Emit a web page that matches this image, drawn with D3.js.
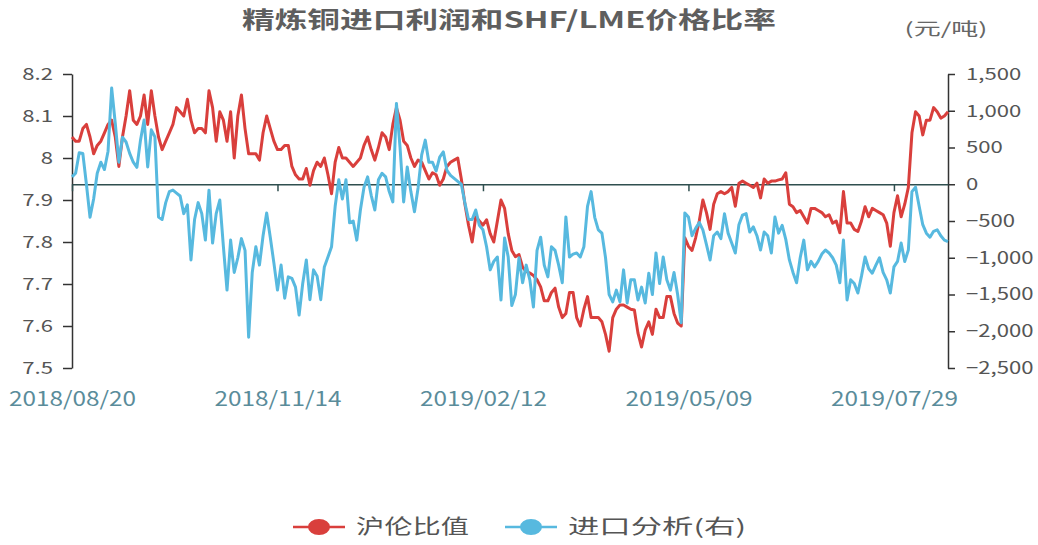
<!DOCTYPE html>
<html>
<head>
<meta charset="utf-8">
<script src="https://cdn.jsdelivr.net/npm/d3@7"></script>
<style>
body{margin:0;background:#fff}
text{font-family:"Noto Sans CJK SC","Noto Sans",sans-serif}
</style>
</head>
<body>
<div id="chart"></div>
<script>
// trading days on the category axis
var dates = [
"2018/08/20","2018/08/21","2018/08/22","2018/08/23","2018/08/24","2018/08/27","2018/08/28","2018/08/29","2018/08/30","2018/08/31",
"2018/09/03","2018/09/04","2018/09/05","2018/09/06","2018/09/07","2018/09/10","2018/09/11","2018/09/12","2018/09/13","2018/09/14",
"2018/09/17","2018/09/18","2018/09/19","2018/09/20","2018/09/21","2018/09/24","2018/09/25","2018/09/26","2018/09/27","2018/09/28",
"2018/10/08","2018/10/09","2018/10/10","2018/10/11","2018/10/12","2018/10/15","2018/10/16","2018/10/17","2018/10/18","2018/10/19",
"2018/10/22","2018/10/23","2018/10/24","2018/10/25","2018/10/26","2018/10/29","2018/10/30","2018/10/31","2018/11/01","2018/11/02",
"2018/11/05","2018/11/06","2018/11/07","2018/11/08","2018/11/09","2018/11/12","2018/11/13","2018/11/14","2018/11/15","2018/11/16",
"2018/11/19","2018/11/20","2018/11/21","2018/11/22","2018/11/23","2018/11/26","2018/11/27","2018/11/28","2018/11/29","2018/11/30",
"2018/12/03","2018/12/04","2018/12/05","2018/12/06","2018/12/07","2018/12/10","2018/12/11","2018/12/12","2018/12/13","2018/12/14",
"2018/12/17","2018/12/18","2018/12/19","2018/12/20","2018/12/21","2018/12/24","2018/12/25","2018/12/26","2018/12/27","2018/12/28",
"2019/01/02","2019/01/03","2019/01/04","2019/01/07","2019/01/08","2019/01/09","2019/01/10","2019/01/11","2019/01/14","2019/01/15",
"2019/01/16","2019/01/17","2019/01/18","2019/01/21","2019/01/22","2019/01/23","2019/01/24","2019/01/25","2019/01/28","2019/01/29",
"2019/01/30","2019/01/31","2019/02/01","2019/02/11","2019/02/12","2019/02/13","2019/02/14","2019/02/15","2019/02/18","2019/02/19",
"2019/02/20","2019/02/21","2019/02/22","2019/02/25","2019/02/26","2019/02/27","2019/02/28","2019/03/01","2019/03/04","2019/03/05",
"2019/03/06","2019/03/07","2019/03/08","2019/03/11","2019/03/12","2019/03/13","2019/03/14","2019/03/15","2019/03/18","2019/03/19",
"2019/03/20","2019/03/21","2019/03/22","2019/03/25","2019/03/26","2019/03/27","2019/03/28","2019/03/29","2019/04/01","2019/04/02",
"2019/04/03","2019/04/04","2019/04/08","2019/04/09","2019/04/10","2019/04/11","2019/04/12","2019/04/15","2019/04/16","2019/04/17",
"2019/04/18","2019/04/22","2019/04/23","2019/04/24","2019/04/25","2019/04/26","2019/04/29","2019/04/30","2019/05/06","2019/05/07",
"2019/05/08","2019/05/09","2019/05/10","2019/05/13","2019/05/14","2019/05/15","2019/05/16","2019/05/17","2019/05/20","2019/05/21",
"2019/05/22","2019/05/23","2019/05/24","2019/05/27","2019/05/28","2019/05/29","2019/05/30","2019/05/31","2019/06/03","2019/06/04",
"2019/06/05","2019/06/06","2019/06/07","2019/06/10","2019/06/11","2019/06/12","2019/06/13","2019/06/14","2019/06/17","2019/06/18",
"2019/06/19","2019/06/20","2019/06/21","2019/06/24","2019/06/25","2019/06/26","2019/06/27","2019/06/28","2019/07/01","2019/07/02",
"2019/07/03","2019/07/04","2019/07/05","2019/07/08","2019/07/09","2019/07/10","2019/07/11","2019/07/12","2019/07/15","2019/07/16",
"2019/07/17","2019/07/18","2019/07/19","2019/07/22","2019/07/23","2019/07/24","2019/07/25","2019/07/26","2019/07/29","2019/07/30",
"2019/07/31","2019/08/01","2019/08/02","2019/08/05","2019/08/06","2019/08/07","2019/08/08","2019/08/09","2019/08/12","2019/08/13",
"2019/08/14","2019/08/15","2019/08/16","2019/08/19"]

// 沪伦比值 (left axis)
var ratio = [
8.05,8.04,8.04,8.07,8.08,8.05,8.01,8.03,8.04,8.06,
8.08,8.09,8.05,7.98,8.05,8.10,8.16,8.09,8.08,8.10,
8.15,8.08,8.16,8.10,8.05,8.02,8.04,8.06,8.08,8.12,
8.11,8.10,8.14,8.09,8.06,8.07,8.07,8.06,8.16,8.12,
8.04,8.11,8.09,8.04,8.11,8.00,8.10,8.15,8.07,8.01,
8.01,8.01,7.995,8.06,8.10,8.07,8.04,8.02,8.02,8.03,
8.03,7.98,7.96,7.95,7.95,7.975,7.935,7.97,7.99,7.98,
8.00,7.96,7.915,7.99,8.025,8.00,8.00,7.99,7.98,7.99,
8.00,8.03,8.05,8.02,7.995,8.025,8.06,8.05,8.02,8.08,
8.12,8.09,8.04,8.03,8.00,7.98,7.995,7.99,7.97,7.95,
7.965,7.96,7.935,7.95,7.98,7.99,7.995,8.00,7.95,7.89,
7.84,7.80,7.86,7.85,7.84,7.853,7.82,7.80,7.85,7.90,
7.88,7.82,7.78,7.765,7.77,7.74,7.73,7.726,7.72,7.71,
7.693,7.66,7.66,7.68,7.69,7.645,7.62,7.63,7.68,7.68,
7.62,7.60,7.64,7.67,7.62,7.62,7.62,7.61,7.58,7.54,
7.62,7.64,7.65,7.65,7.645,7.64,7.638,7.583,7.55,7.59,
7.61,7.58,7.64,7.62,7.62,7.67,7.67,7.63,7.607,7.60,
7.81,7.79,7.78,7.81,7.85,7.90,7.87,7.83,7.89,7.915,
7.92,7.915,7.92,7.93,7.885,7.94,7.945,7.94,7.935,7.93,
7.94,7.905,7.95,7.94,7.945,7.945,7.948,7.95,7.965,7.89,
7.884,7.87,7.875,7.86,7.845,7.88,7.88,7.875,7.87,7.86,
7.865,7.845,7.85,7.822,7.92,7.845,7.845,7.83,7.825,7.85,
7.884,7.86,7.88,7.875,7.87,7.865,7.845,7.79,7.87,7.91,
7.86,7.89,7.93,8.06,8.11,8.10,8.055,8.09,8.09,8.12,
8.11,8.095,8.10,8.11]

// 进口分析 (right axis, 元/吨)
var profit = [
100,150,430,420,0,-450,-200,150,300,200,
450,1310,830,300,640,575,420,300,230,600,
875,235,740,645,-445,-480,-250,-100,-80,-120,
-160,-400,-280,-1030,-480,-250,-400,-760,-80,-800,
-400,-215,-850,-1440,-760,-1200,-1000,-740,-900,-2080,
-1200,-850,-1100,-700,-390,-720,-1070,-1440,-1100,-1550,
-1260,-1280,-1400,-1780,-1350,-1030,-1570,-1165,-1250,-1570,
-1125,-990,-850,-300,60,-200,60,-525,-500,-760,
-350,-40,100,-150,-350,60,150,100,-100,-240,
1100,500,-240,235,-100,-375,-50,400,600,300,
300,180,370,440,190,120,80,40,0,-255,
-480,-480,-350,-560,-620,-850,-1165,-1050,-990,-1575,
-730,-990,-1650,-1500,-1000,-1340,-1100,-1300,-1670,-900,
-720,-1100,-1260,-850,-900,-1100,-1340,-445,-990,-950,
-935,-990,-850,-300,-100,-450,-620,-665,-1000,-1500,
-1600,-1440,-1600,-1165,-1615,-1300,-1300,-1575,-1400,-1615,
-1210,-1500,-935,-1350,-990,-1300,-1440,-1200,-1500,-1885,
-390,-445,-700,-600,-520,-620,-820,-1030,-700,-650,
-740,-400,-665,-800,-935,-550,-420,-400,-650,-580,
-700,-895,-650,-700,-935,-445,-665,-560,-750,-1030,
-1200,-1340,-1000,-760,-1165,-1050,-1125,-1050,-950,-895,
-935,-1000,-1100,-1340,-760,-1575,-1300,-1350,-1480,-1250,
-990,-1150,-1210,-1100,-1000,-1200,-1300,-1480,-1125,-1050,
-800,-1050,-895,-100,-40,-300,-550,-665,-720,-640,
-620,-700,-760,-780]

var leftTicks = [7.5,7.6,7.7,7.8,7.9,8,8.1,8.2]
var rightTicks = [-2500,-2000,-1500,-1000,-500,0,500,1000,1500]
var labelEvery = 57
var seriesNames = ["沪伦比值","进口分析(右)"]
var seriesColors = ["#d93f3c","#57b9df"]
var titleText = "精炼铜进口利润和SHF/LME价格比率"
var unitText = "(元/吨)"

var margin = {top: 74, right: 90, bottom: 177, left: 72},
    width = 1038 - margin.left - margin.right,
    height = 545 - margin.top - margin.bottom

// text in the picture is drawn wider than the font, stretch it
function widen(sel, k){
	sel.each(function(){
		var L = this.getComputedTextLength()
		d3.select(this).attr("textLength", L*k).attr("lengthAdjust","spacingAndGlyphs")
	})
}

var svg = d3.select("#chart").append("svg")
	.attr("width", 1038)
	.attr("height", 545)
var g = svg.append("g")
	.attr("transform","translate(" + margin.left + "," + margin.top + ")")

var x = d3.scalePoint().domain(dates).range([0, width])
var yL = d3.scaleLinear().domain([7.5, 8.2]).range([height, 0])
var yR = d3.scaleLinear().domain([-2500, 1500]).range([height, 0])

// title and unit
svg.append("text").text(titleText)
	.attr("x", 509).attr("y", 28)
	.attr("text-anchor","middle")
	.style("font-size","23px").style("font-weight","bold")
	.attr("fill","#5e5e5e")
	.attr("textLength", 534).attr("lengthAdjust","spacingAndGlyphs")
svg.append("text").text(unitText)
	.attr("x", 946).attr("y", 35)
	.attr("text-anchor","middle")
	.style("font-size","17px")
	.attr("fill","#666")
	.attr("textLength", 83).attr("lengthAdjust","spacingAndGlyphs")

// left axis
var leftAxis = g.append("g")
	.call(d3.axisLeft(yL).tickValues(leftTicks).tickFormat(d3.format("")).tickSize(9).tickSizeOuter(0).tickPadding(10))
leftAxis.select(".domain").attr("stroke","#333").attr("stroke-width",1.5)
leftAxis.selectAll(".tick line").attr("stroke","#333").attr("stroke-width",1.5)
leftAxis.selectAll(".tick text").attr("fill","#555").style("font-size","17px")
widen(leftAxis.selectAll(".tick text"), 1.3)

// right axis
var rightAxis = g.append("g")
	.attr("transform","translate(" + width + ",0)")
	.call(d3.axisRight(yR).tickValues(rightTicks).tickFormat(d3.format(",")).tickSize(7).tickSizeOuter(0).tickPadding(11))
rightAxis.select(".domain").attr("stroke","#333").attr("stroke-width",1.5)
rightAxis.selectAll(".tick line").attr("stroke","#333").attr("stroke-width",1.5)
rightAxis.selectAll(".tick text").attr("fill","#555").style("font-size","17px")
widen(rightAxis.selectAll(".tick text"), 1.3)

// category axis line sits on zero of the right axis
var labelDates = dates.filter(function(d,i){ return i % labelEvery == 0 })
var zeroAxis = g.append("g")
	.attr("transform","translate(0," + yR(0) + ")")
	.call(d3.axisBottom(x).tickValues(labelDates).tickSize(7).tickSizeOuter(0).tickFormat(""))
zeroAxis.select(".domain").attr("stroke","#2f4f4f").attr("stroke-width",1.5)
zeroAxis.selectAll(".tick line").attr("stroke","#2f4f4f").attr("stroke-width",1.5)

// category labels at the bottom
var labelAxis = g.append("g")
	.attr("transform","translate(0," + height + ")")
	.call(d3.axisBottom(x).tickValues(labelDates).tickSize(0).tickPadding(24))
labelAxis.select(".domain").remove()
labelAxis.selectAll(".tick text").attr("fill","#5a8c9a").style("font-size","20px")
labelAxis.selectAll(".tick text").attr("textLength",127).attr("lengthAdjust","spacingAndGlyphs")

// series lines, right axis series drawn on top
var lineL = d3.line().x(function(d,i){ return x(dates[i]) }).y(function(d){ return yL(d) })
var lineR = d3.line().x(function(d,i){ return x(dates[i]) }).y(function(d){ return yR(d) })

g.append("path").datum(ratio)
	.attr("d", lineL)
	.attr("fill","none")
	.attr("stroke", seriesColors[0])
	.attr("stroke-width", 3)
	.attr("stroke-linejoin","round")
g.append("path").datum(profit)
	.attr("d", lineR)
	.attr("fill","none")
	.attr("stroke", seriesColors[1])
	.attr("stroke-width", 3)
	.attr("stroke-linejoin","round")

// legend, centred under the chart
var legendX = [293, 505]
var legendTextLen = [113, 178]
var legend = svg.selectAll(".legend")
	.data(seriesNames)
	.enter()
	.append("g")
	.attr("class","legend")
	.attr("transform", function(d,i){ return "translate(" + legendX[i] + ",527)" })
legend.append("line")
	.attr("x1",0).attr("x2",52).attr("y1",0).attr("y2",0)
	.attr("stroke", function(d,i){ return seriesColors[i] })
	.attr("stroke-width",2.5)
legend.append("ellipse")
	.attr("cx",26).attr("cy",0).attr("rx",11).attr("ry",8)
	.attr("fill", function(d,i){ return seriesColors[i] })
legend.append("text")
	.text(function(d){ return d })
	.attr("x",63).attr("y",0).attr("dy","0.36em")
	.style("font-size","20px")
	.attr("fill","#555")
	.attr("textLength", function(d,i){ return legendTextLen[i] })
	.attr("lengthAdjust","spacingAndGlyphs")
</script>
</body>
</html>
